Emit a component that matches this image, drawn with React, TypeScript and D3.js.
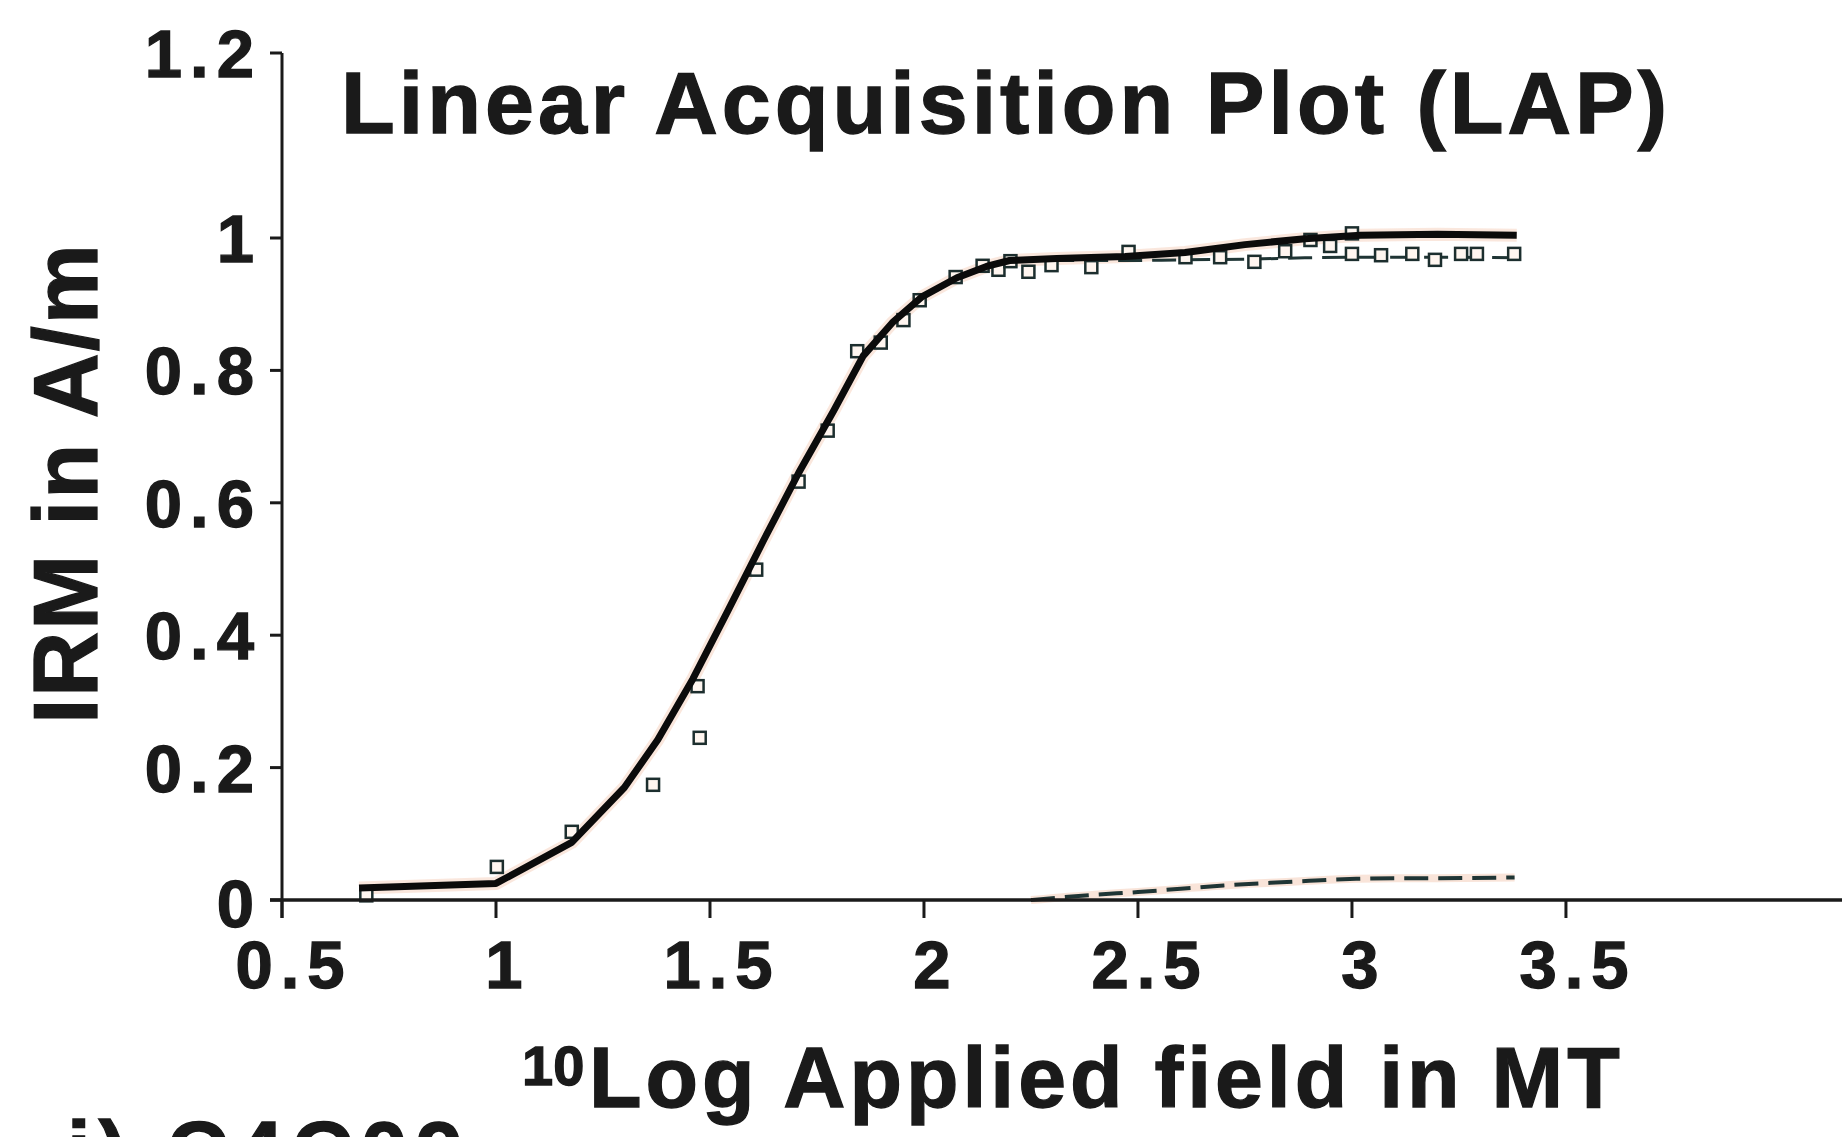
import React from "react";
import * as d3 from "d3";

const W = 1842;
const H = 1137;

// measured IRM acquisition data (log10 field in mT, IRM in A/m)
const pointX = [0.697, 1.002, 1.177, 1.367, 1.471, 1.476, 1.608, 1.707, 1.775, 1.844, 1.899, 1.952, 1.99, 2.074, 2.137, 2.174, 2.202, 2.244, 2.298, 2.391, 2.478, 2.611, 2.692, 2.772, 2.844, 2.903, 2.949, 3.0, 3.0, 3.068, 3.141, 3.194, 3.255, 3.292, 3.379];
const pointY = [0.007, 0.05, 0.103, 0.174, 0.323, 0.245, 0.499, 0.632, 0.709, 0.829, 0.842, 0.876, 0.906, 0.941, 0.958, 0.952, 0.965, 0.949, 0.959, 0.956, 0.979, 0.971, 0.971, 0.964, 0.98, 0.997, 0.988, 1.005, 0.976, 0.974, 0.976, 0.967, 0.976, 0.976, 0.976];

// total fit (solid)
const fitX = [0.68, 1.0, 1.177, 1.3, 1.378, 1.46, 1.542, 1.625, 1.707, 1.789, 1.858, 1.926, 1.995, 2.077, 2.146, 2.2, 2.31, 2.47, 2.61, 2.75, 2.89, 3.02, 3.2, 3.385];
const fitY = [0.018, 0.025, 0.087, 0.17, 0.242, 0.334, 0.437, 0.543, 0.645, 0.739, 0.822, 0.872, 0.911, 0.94, 0.957, 0.966, 0.969, 0.972, 0.978, 0.99, 0.999, 1.003, 1.004, 1.003];

// component 1 (dashed, high level)
const comp1X = [1.995, 2.077, 2.146, 2.2, 2.31, 2.47, 2.61, 2.75, 2.89, 3.02, 3.2, 3.385];
const comp1Y = [0.911, 0.94, 0.957, 0.965, 0.966, 0.966, 0.967, 0.968, 0.97, 0.971, 0.971, 0.97];

// component 2 (dashed, near zero)
const comp2X = [2.25, 2.4, 2.5, 2.6, 2.7, 2.81, 2.9, 3.01, 3.1, 3.2, 3.38];
const comp2Y = [0.0, 0.008, 0.012, 0.017, 0.022, 0.026, 0.029, 0.032, 0.033, 0.033, 0.034];

const xTicks = [0.5, 1, 1.5, 2, 2.5, 3, 3.5];
const yTicks = [0, 0.2, 0.4, 0.6, 0.8, 1, 1.2];

const titleText = "Linear Acquisition Plot (LAP)";
const yLabel = "IRM in A/m";
const xLabelSup = "10";
const xLabelMain = "Log Applied field in MT";
const panelLabel = "i) C4C09";

const FONT = "'Liberation Sans', Arial, Helvetica, sans-serif";
const INK = "#1a1a1a";

export default function App() {
  const x = d3.scaleLinear().domain([0.5, 4.145]).range([282, 1842]);
  const y = d3.scaleLinear().domain([0, 1, 1.2]).range([900, 238, 53]);

  const pts = pointX.map((v, i) => [v, pointY[i]] as [number, number]);
  const line = d3
    .line<[number, number]>()
    .x((d) => x(d[0]))
    .y((d) => y(d[1]))
    .curve(d3.curveLinear);
  const smooth = d3
    .line<[number, number]>()
    .x((d) => x(d[0]))
    .y((d) => y(d[1]))
    .curve(d3.curveMonotoneX);

  const fit = fitX.map((v, i) => [v, fitY[i]] as [number, number]);
  const c1 = comp1X.map((v, i) => [v, comp1Y[i]] as [number, number]);
  const c2 = comp2X.map((v, i) => [v, comp2Y[i]] as [number, number]);

  const sq = 12;
  const heavy = { stroke: INK, strokeWidth: 1.3, paintOrder: "stroke" as const };

  return (
    <div style={{ position: "absolute", left: 0, top: 0, width: W, height: H, overflow: "hidden", background: "#fff" }}>
      <svg width={W} height={H} viewBox={`0 0 ${W} ${H}`} style={{ display: "block" }}>
        <rect x={0} y={0} width={W} height={H} fill="#ffffff" />

        {/* title */}
        <text x={341} y={133} fontFamily={FONT} fontWeight={700} fontSize={88} letterSpacing={4} fill={INK} {...heavy}>
          {titleText}
        </text>

        {/* faint halo under curves */}
        <path d={line(fit) || ""} fill="none" stroke="#f4c9b4" strokeWidth={13} strokeOpacity={0.45} strokeLinejoin="round" />
        <path d={smooth(c2) || ""} fill="none" stroke="#f4c9b4" strokeWidth={8} strokeOpacity={0.5} />

        {/* component curves */}
        <path d={smooth(c1) || ""} fill="none" stroke="#1f3535" strokeWidth={3} strokeDasharray="24 10" />
        <path d={smooth(c2) || ""} fill="none" stroke="#1f3535" strokeWidth={4} strokeDasharray="24 10" />

        {/* data squares */}
        {pts.map((d, i) => (
          <rect
            key={i}
            x={x(d[0]) - sq / 2}
            y={y(d[1]) - sq / 2}
            width={sq}
            height={sq}
            fill="#fff6f0"
            stroke="#1c2e2e"
            strokeWidth={2.5}
          />
        ))}

        {/* total fit */}
        <path d={line(fit) || ""} fill="none" stroke="#0b0b0b" strokeWidth={7} strokeLinejoin="round" strokeLinecap="butt" />

        {/* x axis */}
        <line x1={x.range()[0] - 12} x2={x.range()[1]} y1={y(0)} y2={y(0)} stroke={INK} strokeWidth={3.5} />
        {xTicks.map((t) => (
          <g key={"xt" + t}>
            <line x1={x(t)} x2={x(t)} y1={y(0)} y2={y(0) + 18} stroke={INK} strokeWidth={3} />
            <text
              x={x(t) + 12}
              y={988}
              textAnchor="middle"
              fontFamily={FONT}
              fontWeight={700}
              fontSize={67}
              letterSpacing={8}
              fill={INK}
              {...heavy}
            >
              {String(t)}
            </text>
          </g>
        ))}

        {/* y axis */}
        <line x1={x(0.5)} x2={x(0.5)} y1={y(1.2)} y2={y(0) + 18} stroke={INK} strokeWidth={3} />
        {yTicks.map((t) => (
          <g key={"yt" + t}>
            <line x1={x(0.5) - 12} x2={x(0.5)} y1={y(t)} y2={y(t)} stroke={INK} strokeWidth={3} />
            <text
              x={262}
              y={y(t) + 24 + (t === 0 ? 3 : 0)}
              textAnchor="end"
              fontFamily={FONT}
              fontWeight={700}
              fontSize={67}
              letterSpacing={8}
              fill={INK}
              {...heavy}
            >
              {String(t)}
            </text>
          </g>
        ))}

        {/* y label */}
        <text
          transform={`translate(97, ${y(0.63)}) rotate(-90)`}
          textAnchor="middle"
          fontFamily={FONT}
          fontWeight={700}
          fontSize={90}
          letterSpacing={2}
          fill={INK}
          {...heavy}
        >
          {yLabel}
        </text>

        {/* x label */}
        <text x={522} y={1085} fontFamily={FONT} fontWeight={700} fontSize={56} fill={INK} {...heavy}>
          {xLabelSup}
        </text>
        <text x={589} y={1107} fontFamily={FONT} fontWeight={700} fontSize={86} letterSpacing={4} fill={INK} {...heavy}>
          {xLabelMain}
        </text>

        {/* panel label (cut off at bottom, as in the source figure) */}
        <text x={67} y={1181} fontFamily={FONT} fontWeight={700} fontSize={85} letterSpacing={8} fill={INK} {...heavy}>
          {panelLabel}
        </text>
      </svg>
    </div>
  );
}
